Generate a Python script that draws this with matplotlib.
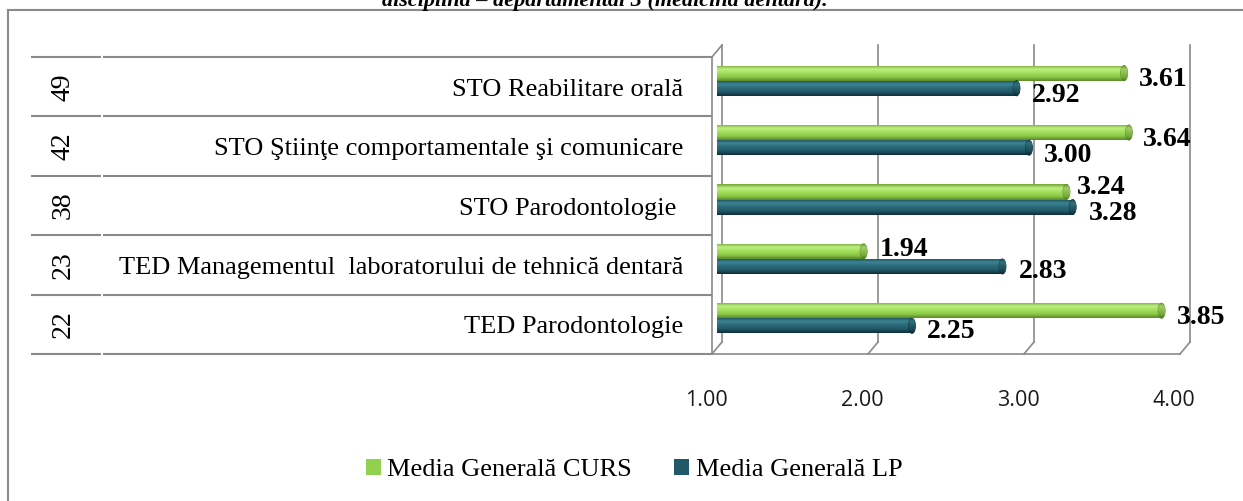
import numpy as np
import matplotlib
matplotlib.use("Agg")
import matplotlib.pyplot as plt
from matplotlib.patches import Rectangle, Ellipse, Patch
from matplotlib.lines import Line2D
from matplotlib.colors import LinearSegmentedColormap
import matplotlib.transforms as mtransforms

# ---- data -------------------------------------------------------------
title = "disciplină – departamental 3 (medicină dentară)."
categories = [
    "STO Reabilitare orală",
    "STO Ştiinţe comportamentale şi comunicare",
    "STO Parodontologie ",
    "TED Managementul  laboratorului de tehnică dentară",
    "TED Parodontologie",
]
respondents = [49, 42, 38, 23, 22]
media_curs = [3.61, 3.64, 3.24, 1.94, 3.85]
media_lp = [2.92, 3.00, 3.28, 2.83, 2.25]
tick_values = [1.00, 2.00, 3.00, 4.00]
series_names = ["Media Generală CURS", "Media Generală LP"]

# ---- styling ----------------------------------------------------------
W, H = 1243, 501
SERIF = "Liberation Serif"
SANS = "Open Sans"
WALL = "#8a8a8a"
GREEN = "#92D050"
TEAL = "#215968"
green_stops = ["#72A436", "#BDF080", "#A2DF5C", "#8DC948", "#5A8A28"]
teal_stops = ["#1A4A57", "#3D8494", "#2B6A7A", "#20586A", "#0E2F38"]
# label nudges in pixels (dx right, dy down from bar centre to baseline)
curs_nudge = [(15, 13), (14, 13), (10, 2), (16, 5), (15, 13)]
lp_nudge = [(15, 14), (15, 14), (16, 13), (16, 12), (15, 12)]


def fx(px):
    return px / W


def fy(py):
    return 1 - py / H


fig = plt.figure(figsize=(W / 100, H / 100), dpi=100)
fig.patch.set_facecolor("white")

# outer chart frame (left and top edges)
fig.add_artist(Line2D([fx(7.5), fx(7.5)], [fy(9.5), 0], color=WALL, lw=1.5))
fig.add_artist(Line2D([fx(7.5), 1], [fy(9.5), fy(9.5)], color=WALL, lw=1.5))

# title, partly above the visible area
fig.text(fx(605), fy(6), title, ha="center", va="baseline", fontsize=16,
         fontweight="bold", fontstyle="italic", family=SERIF)

# ---- bar plane axes -----------------------------------------------------
ax_l, ax_r, ax_t, ax_b = 717, 1185, 51, 348
ax = fig.add_axes([fx(ax_l), fy(ax_b), (ax_r - ax_l) / W, (ax_b - ax_t) / H])
ax.set_xlim(1, 4)
ax.set_ylim(4.5, -0.5)
ax.axis("off")

DX, DY = 5, 6  # depth offset between the bar plane and the front / back planes
front = ax.transData + mtransforms.Affine2D().translate(-DX, -DY)
back = ax.transData + mtransforms.Affine2D().translate(DX, DY)
ident = mtransforms.IdentityTransform()

n = len(categories)
top_edge, bottom_edge = -0.5, n - 0.5

# back wall gridlines and floor diagonals
for t in tick_values:
    ax.add_line(Line2D([t, t], [top_edge, bottom_edge], transform=back,
                       color=WALL, lw=1.2, clip_on=False))
    p_back = back.transform((t, bottom_edge))
    p_front = front.transform((t, bottom_edge))
    ax.add_line(Line2D([p_back[0], p_front[0]], [p_back[1], p_front[1]],
                       transform=ident, color=WALL, lw=1.2, clip_on=False))

# floor front edge and left wall
ax.add_line(Line2D([tick_values[0], tick_values[-1]], [bottom_edge, bottom_edge],
                   transform=front, color=WALL, lw=1.2, clip_on=False))
ax.add_line(Line2D([tick_values[0], tick_values[0]], [top_edge, bottom_edge],
                   transform=front, color=WALL, lw=1.2, clip_on=False))
p_b = back.transform((tick_values[0], top_edge))
p_f = front.transform((tick_values[0], top_edge))
ax.add_line(Line2D([p_f[0], p_b[0]], [p_f[1], p_b[1]], transform=ident,
                   color=WALL, lw=1.2, clip_on=False))

# ---- cylinder bars ------------------------------------------------------
grad = np.linspace(0, 1, 64).reshape(-1, 1)
cap_w = 7 / ((ax_r - ax_l) / 3)  # cap width in data units


def cylinder(x0, x1, ytop, ybot, stops):
    cmap = LinearSegmentedColormap.from_list("cyl", stops)
    cap_cmap = LinearSegmentedColormap.from_list(
        "cap", [matplotlib.colors.to_hex(np.array(matplotlib.colors.to_rgb(c)) * 0.85)
                for c in stops])
    yc = (ytop + ybot) / 2
    h = ybot - ytop
    body = Rectangle((x0, ytop), x1 - x0, h, facecolor="none", edgecolor="none")
    ax.add_patch(body)
    im = ax.imshow(grad, extent=(x0, x1, ybot, ytop), cmap=cmap, aspect="auto",
                   origin="upper", interpolation="bilinear", zorder=2)
    im.set_clip_path(body)
    left = Ellipse((x0, yc), cap_w, h, facecolor="none", edgecolor="none")
    ax.add_patch(left)
    iml = ax.imshow(grad, extent=(x0 - cap_w, x0 + cap_w, ybot, ytop), cmap=cmap,
                    aspect="auto", origin="upper", interpolation="bilinear", zorder=2)
    iml.set_clip_path(left)
    cap = Ellipse((x1, yc), cap_w, h, facecolor="none", edgecolor=stops[-1],
                  lw=0.6, zorder=3)
    ax.add_patch(cap)
    imc = ax.imshow(grad, extent=(x1 - cap_w, x1 + cap_w, ybot, ytop), cmap=cap_cmap,
                    aspect="auto", origin="upper", interpolation="bilinear", zorder=3)
    imc.set_clip_path(cap)


bar_h = 0.255
label_kw = dict(fontsize=20, fontweight="bold", family=SERIF, ha="left",
                va="baseline", textcoords="offset pixels", annotation_clip=False)
for i in range(n):
    cylinder(1.0, media_curs[i], i - bar_h, i, green_stops)
    cylinder(1.0, media_lp[i], i, i + bar_h, teal_stops)
    dx, dy = curs_nudge[i]
    ax.annotate(f"{media_curs[i]:.2f}", xy=(media_curs[i], i - bar_h / 2),
                xytext=(dx, -dy), **label_kw)
    dx, dy = lp_nudge[i]
    ax.annotate(f"{media_lp[i]:.2f}", xy=(media_lp[i], i + bar_h / 2),
                xytext=(dx, -dy), **label_kw)

ax.set_xlim(1, 4)
ax.set_ylim(4.5, -0.5)

# value axis labels under the floor
tick_tr = mtransforms.blended_transform_factory(
    front + mtransforms.Affine2D().translate(-6, 0), fig.transFigure)
for t in tick_values:
    fig.text(t, fy(406), f"{t:.2f}", transform=tick_tr, ha="center",
             va="baseline", fontsize=15.5, family=SANS, color="#1a1a1a")

# ---- category table on the front plane ---------------------------------
tb_l, tb_r, tb_t, tb_b = 31, 712, 57, 354
tax = fig.add_axes([fx(tb_l), fy(tb_b), (tb_r - tb_l) / W, (tb_b - tb_t) / H])
tax.set_xlim(0, 1)
tax.set_ylim(n - 0.5, -0.5)
tax.axis("off")
split = (102 - tb_l) / (tb_r - tb_l)
gap = 1.0 / (tb_r - tb_l)
for b in np.arange(-0.5, n + 0.5):
    tax.plot([0, split - gap], [b, b], color=WALL, lw=1.5, clip_on=False,
             solid_capstyle="butt")
    tax.plot([split + gap, 1], [b, b], color=WALL, lw=1.5, clip_on=False,
             solid_capstyle="butt")

row_px = (tb_b - tb_t) / n
for i, (cat, cnt) in enumerate(zip(categories, respondents)):
    tax.text((683 - tb_l) / (tb_r - tb_l), i + 9 / row_px, cat, ha="right",
             va="baseline", fontsize=19, family=SERIF, color="black")
    tax.text((63 - tb_l) / (tb_r - tb_l), i, str(cnt), ha="center", va="center",
             rotation=90, fontsize=20, family=SERIF, color="black")

# ---- legend -------------------------------------------------------------
handles = [Patch(facecolor=GREEN, edgecolor="none"),
           Patch(facecolor=TEAL, edgecolor="none")]
fig.legend(handles, series_names, loc="center", ncol=2, frameon=False,
           bbox_to_anchor=(fx(634), fy(470)), prop={"family": SERIF, "size": 19},
           handlelength=0.57, handleheight=0.57, handletextpad=0.25,
           columnspacing=1.6, borderpad=0)

fig.savefig("out.png", dpi=100, facecolor="white")
